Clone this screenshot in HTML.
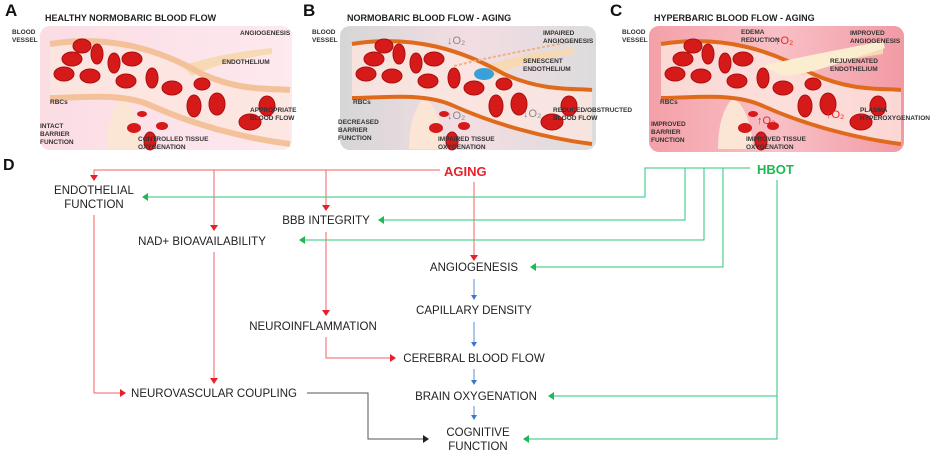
<!DOCTYPE html>
<html><head><meta charset="utf-8"><style>
html,body{margin:0;padding:0;background:#fff;}
svg{display:block;font-family:"Liberation Sans",Arial,sans-serif;}
.l{font-size:11.5px;fill:#222;text-anchor:middle;}
.s{font-size:6.5px;font-weight:bold;fill:#333;}
.t{font-size:9px;font-weight:bold;fill:#222;}
</style></head><body>
<svg width="936" height="452" viewBox="0 0 936 452" xmlns="http://www.w3.org/2000/svg">
<defs>
<linearGradient id="gA" x1="0" x2="1"><stop offset="0" stop-color="#fbdde4"/><stop offset="1" stop-color="#fde9ee"/></linearGradient>
<linearGradient id="gB" x1="0" x2="1"><stop offset="0" stop-color="#d6d6d6"/><stop offset="0.5" stop-color="#f3dde3"/><stop offset="1" stop-color="#dcdcdc"/></linearGradient>
<linearGradient id="gC" x1="0" x2="1"><stop offset="0" stop-color="#f4a0a8"/><stop offset="0.5" stop-color="#f8c0c6"/><stop offset="1" stop-color="#f29aa4"/></linearGradient>
<g id="rbc">
<ellipse cx="40" cy="20" rx="9" ry="7" fill="#d61a1a" stroke="#a80f0f"/>
<ellipse cx="30" cy="33" rx="10" ry="7" fill="#d61a1a" stroke="#a80f0f"/>
<ellipse cx="55" cy="28" rx="6" ry="10" fill="#d61a1a" stroke="#a80f0f"/>
<ellipse cx="22" cy="48" rx="10" ry="7" fill="#d61a1a" stroke="#a80f0f"/>
<ellipse cx="48" cy="50" rx="10" ry="7" fill="#d61a1a" stroke="#a80f0f"/>
<ellipse cx="72" cy="37" rx="6" ry="10" fill="#d61a1a" stroke="#a80f0f"/>
<ellipse cx="90" cy="33" rx="10" ry="7" fill="#d61a1a" stroke="#a80f0f"/>
<ellipse cx="84" cy="55" rx="10" ry="7" fill="#d61a1a" stroke="#a80f0f"/>
<ellipse cx="110" cy="52" rx="6" ry="10" fill="#d61a1a" stroke="#a80f0f"/>
<ellipse cx="130" cy="62" rx="10" ry="7" fill="#d61a1a" stroke="#a80f0f"/>
<ellipse cx="152" cy="80" rx="7" ry="11" fill="#d61a1a" stroke="#a80f0f"/>
<ellipse cx="175" cy="78" rx="8" ry="11" fill="#d61a1a" stroke="#a80f0f"/>
<ellipse cx="208" cy="96" rx="11" ry="8" fill="#d61a1a" stroke="#a80f0f"/>
<ellipse cx="225" cy="80" rx="8" ry="10" fill="#d61a1a" stroke="#a80f0f"/>
<ellipse cx="160" cy="58" rx="8" ry="6" fill="#d61a1a" stroke="#a80f0f"/>
<ellipse cx="120" cy="100" rx="6" ry="4" fill="#d61a1a"/>
<ellipse cx="108" cy="115" rx="6" ry="9" fill="#d61a1a" stroke="#a80f0f"/>
<ellipse cx="92" cy="102" rx="7" ry="5" fill="#d61a1a"/>
<ellipse cx="100" cy="88" rx="5" ry="3" fill="#d61a1a"/>
</g>
<g id="ves">
<path d="M8,18 C70,8 120,25 160,48 C200,66 230,62 248,64 L248,118 C200,112 150,98 110,80 C80,66 40,72 8,72 Z" fill="#fde6e0" opacity="0.8"/>
<path d="M80,72 C95,80 100,110 100,123 L65,123 C65,100 70,82 80,72 Z" fill="#fbe6d6"/>
<path d="M140,40 C170,30 200,25 230,22 L230,28 C200,32 175,38 150,50 Z" fill="#f7d9b4"/>
</g>
</defs>

<text x="5" y="16" font-size="17" font-weight="bold" fill="#111">A</text>
<text x="45" y="21" class="t">HEALTHY NORMOBARIC BLOOD FLOW</text>
<rect x="40" y="26" width="252" height="124" rx="10" fill="url(#gA)"/>
<g transform="translate(42,26)"><use href="#ves"/>
<path d="M8,18 C70,8 120,25 160,48 C200,66 230,62 248,64" fill="none" stroke="#f4c29a" stroke-width="6"/>
<path d="M8,72 C40,72 80,66 110,80 C150,98 200,112 248,118" fill="none" stroke="#f4c29a" stroke-width="6"/>
<use href="#rbc"/></g>
<text x="12" y="34" class="s">BLOOD</text><text x="12" y="42" class="s">VESSEL</text>
<text x="50" y="104" class="s">RBCs</text>
<text x="40" y="128" class="s">INTACT</text><text x="40" y="136" class="s">BARRIER</text><text x="40" y="144" class="s">FUNCTION</text>
<text x="240" y="35" class="s">ANGIOGENESIS</text>
<text x="222" y="64" class="s">ENDOTHELIUM</text>
<text x="250" y="112" class="s">APPROPRIATE</text><text x="250" y="120" class="s">BLOOD FLOW</text>
<text x="138" y="141" class="s">CONTROLLED TISSUE</text><text x="138" y="149" class="s">OXYGENATION</text>

<text x="303" y="16" font-size="17" font-weight="bold" fill="#111">B</text>
<text x="347" y="21" class="t">NORMOBARIC BLOOD FLOW - AGING</text>
<rect x="340" y="26" width="256" height="124" rx="10" fill="url(#gB)"/>
<g transform="translate(344,26)"><use href="#ves"/>
<path d="M8,18 C70,8 120,25 160,48 C200,66 230,62 248,64" fill="none" stroke="#e06a1c" stroke-width="4"/>
<path d="M8,72 C40,72 80,66 110,80 C150,98 200,112 248,118" fill="none" stroke="#e06a1c" stroke-width="4"/>
<use href="#rbc"/>
<ellipse cx="140" cy="48" rx="10" ry="6" fill="#3aa0d8"/>
<path d="M110,40 C150,30 180,25 230,15" fill="none" stroke="#f4b080" stroke-dasharray="3,2" stroke-width="2"/></g>
<text x="312" y="34" class="s">BLOOD</text><text x="312" y="42" class="s">VESSEL</text>
<text x="353" y="104" class="s">RBCs</text>
<text x="338" y="124" class="s">DECREASED</text><text x="338" y="132" class="s">BARRIER</text><text x="338" y="140" class="s">FUNCTION</text>
<text x="543" y="35" class="s">IMPAIRED</text><text x="543" y="43" class="s">ANGIOGENESIS</text>
<text x="523" y="63" class="s">SENESCENT</text><text x="523" y="71" class="s">ENDOTHELIUM</text>
<text x="553" y="112" class="s">REDUCED/OBSTRUCTED</text><text x="553" y="120" class="s">BLOOD FLOW</text>
<text x="438" y="141" class="s">IMPAIRED TISSUE</text><text x="438" y="149" class="s">OXYGENATION</text>
<text x="447" y="44" font-size="11" fill="#888">↓O₂</text>
<text x="447" y="119" font-size="11" fill="#888">↓O₂</text>
<text x="523" y="117" font-size="11" fill="#888">↓O₂</text>

<text x="610" y="16" font-size="17" font-weight="bold" fill="#111">C</text>
<text x="654" y="21" class="t">HYPERBARIC BLOOD FLOW - AGING</text>
<rect x="649" y="26" width="255" height="126" rx="10" fill="url(#gC)"/>
<g transform="translate(653,26)"><use href="#ves"/>
<path d="M8,18 C70,8 120,25 160,48 C200,66 230,62 248,64" fill="none" stroke="#e06a1c" stroke-width="4"/>
<path d="M8,72 C40,72 80,66 110,80 C150,98 200,112 248,118" fill="none" stroke="#e06a1c" stroke-width="4"/>
<use href="#rbc"/>
<path d="M110,40 C150,30 180,25 230,15 L232,22 C190,35 160,48 130,50 Z" fill="#fbeed0"/></g>
<text x="622" y="34" class="s">BLOOD</text><text x="622" y="42" class="s">VESSEL</text>
<text x="660" y="104" class="s">RBCs</text>
<text x="651" y="126" class="s">IMPROVED</text><text x="651" y="134" class="s">BARRIER</text><text x="651" y="142" class="s">FUNCTION</text>
<text x="741" y="34" class="s">EDEMA</text><text x="741" y="42" class="s">REDUCTION</text>
<text x="775" y="44" font-size="11" fill="#e22">↑O₂</text>
<text x="850" y="35" class="s">IMPROVED</text><text x="850" y="43" class="s">ANGIOGENESIS</text>
<text x="830" y="63" class="s">REJUVENATED</text><text x="830" y="71" class="s">ENDOTHELIUM</text>
<text x="860" y="112" class="s">PLASMA</text><text x="860" y="120" class="s">HYPEROXYGENATION</text>
<text x="746" y="141" class="s">IMPROVED TISSUE</text><text x="746" y="149" class="s">OXYGENATION</text>
<text x="757" y="124" font-size="11" fill="#e22">↑O₂</text>
<text x="826" y="118" font-size="11" fill="#e22">↑O₂</text>

<text x="3" y="170" font-size="16" font-weight="bold" fill="#111">D</text>
<text x="444" y="176" font-size="13" font-weight="bold" fill="#e8202a">AGING</text>
<text x="757" y="174" font-size="13" font-weight="bold" fill="#1db954">HBOT</text>

<g fill="none" stroke-width="1">
<path d="M440,170 H94 V176 M214,170 V227 M326,170 V206 M474,182 V256 M326,232 V311 M326,337 V358 H391 M94,215 V393 H121 M214,252 V380" stroke="#f06060"/>
<path d="M750,168 H645 V197 H147 M685,168 V220 H382 M704,168 V240 H302 M723,168 V267 H534 M777,180 V439 H528 M777,396 H552" stroke="#2ec47a"/>
<path d="M474,279 V296 M474,322 V343 M474,369 V381 M474,406 V416" stroke="#5b8fd6"/>
<path d="M307,393 H368 V439 H424" stroke="#555"/>
</g>
<g fill="#e8202a">
<path d="M90,175 L98,175 L94,181Z M210,225 L218,225 L214,231Z M322,205 L330,205 L326,211Z M470,255 L478,255 L474,261Z M322,310 L330,310 L326,316Z M390,354 L390,362 L396,358Z M120,389 L120,397 L126,393Z M210,378 L218,378 L214,384Z"/>
</g>
<g fill="#1db954">
<path d="M142,197 L148,193 L148,201Z M378,220 L384,216 L384,224Z M299,240 L305,236 L305,244Z M530,267 L536,263 L536,271Z M548,396 L554,392 L554,400Z M523,439 L529,435 L529,443Z"/>
</g>
<g fill="#3a78c8">
<path d="M471,295 L477,295 L474,300Z M471,342 L477,342 L474,347Z M471,380 L477,380 L474,385Z M471,415 L477,415 L474,420Z"/>
</g>
<path d="M423,435 L423,443 L429,439Z" fill="#222"/>

<text x="94" y="194" class="l">ENDOTHELIAL</text>
<text x="94" y="208" class="l">FUNCTION</text>
<text x="326" y="224" class="l">BBB INTEGRITY</text>
<text x="202" y="245" class="l">NAD+ BIOAVAILABILITY</text>
<text x="474" y="271" class="l">ANGIOGENESIS</text>
<text x="474" y="314" class="l">CAPILLARY DENSITY</text>
<text x="313" y="330" class="l">NEUROINFLAMMATION</text>
<text x="474" y="362" class="l">CEREBRAL BLOOD FLOW</text>
<text x="214" y="397" class="l">NEUROVASCULAR COUPLING</text>
<text x="476" y="400" class="l">BRAIN OXYGENATION</text>
<text x="478" y="436" class="l">COGNITIVE</text>
<text x="478" y="450" class="l">FUNCTION</text>
</svg>
</body></html>
